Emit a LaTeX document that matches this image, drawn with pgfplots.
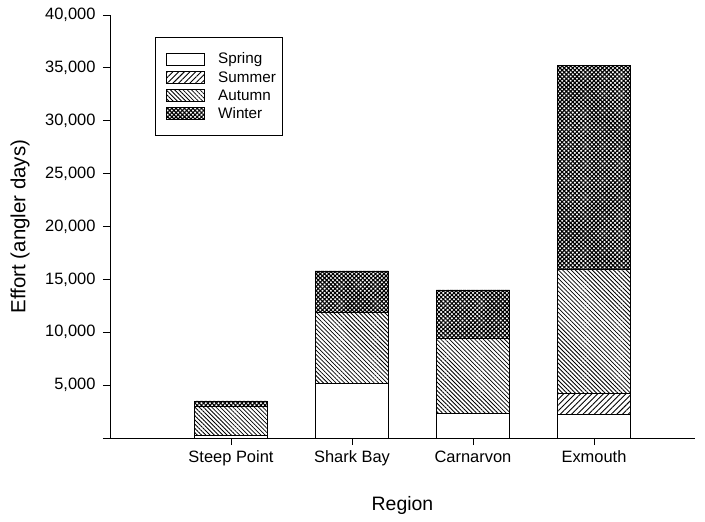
\documentclass[border=0pt]{standalone}
\usepackage{fontspec}
\setmainfont{Liberation Sans}
\usepackage{pgfplots}
\pgfplotsset{compat=1.18}
\usetikzlibrary{patterns.meta}
\tikzset{
  pspring/.style={fill=white},
  psummer/.style={pattern={Lines[angle=45,distance=4bp,line width=0.9bp]}},
  pautumn/.style={pattern={Lines[angle=-45,distance=3bp,line width=0.8bp]}},
  pwinter/.style={pattern={Hatch[angle=45,distance=3bp,line width=1.1bp]}},
}
\begin{document}
\begin{tikzpicture}
\useasboundingbox (-110bp,-84bp) rectangle (595bp,438bp);
\begin{axis}[
  at={(0,0)}, anchor=south west,
  scale only axis,
  width=585bp, height=423bp,
  ybar stacked,
  bar width=0.61,
  xmin=-1, xmax=3.835,
  ymin=0, ymax=40000,
  scaled y ticks=false,
  axis lines=left,
  axis line style={-, line width=0.8bp},
  tick style={black, line width=0.8bp},
  tick align=outside,
  major tick length=7bp,
  xtick={0,1,2,3},
  xticklabels={Steep Point,Shark Bay,Carnarvon,Exmouth},
  ytick={0,5000,10000,15000,20000,25000,30000,35000,40000},
  yticklabels={{},{5,000},{10,000},{15,000},{20,000},{25,000},{30,000},{35,000},{40,000}},
  ticklabel style={font=\fontsize{16.5}{19}\selectfont},
  xticklabel style={yshift=-2bp},
  yticklabel style={xshift=-4bp},
  xlabel={Region},
  ylabel={Effort (angler days)},
  every axis x label/.style={at={(axis description cs:0.5,0)}, anchor=center, yshift=-67bp, font=\fontsize{19.5}{22}\selectfont},
  every axis y label/.style={at={(axis description cs:0,0.5)}, anchor=center, xshift=-90bp, rotate=90, font=\fontsize{20.5}{22}\selectfont},
  legend image code/.code={\path (7bp,0bp) (62bp,0bp); \draw[#1, line width=0.7bp] (16bp,-6bp) rectangle (54bp,6bp);},
  legend style={at={(axis description cs:0.077,0.948)}, anchor=north west,
    draw=black, line width=0.8bp, font=\fontsize{15.3}{15.3}\selectfont,
    inner xsep=2bp, inner ysep=14bp, row sep=3bp,
    nodes={inner xsep=5bp, inner ysep=1.5bp}},
  legend cell align=left,
]
\addplot[draw=black, line width=0.8bp, pspring] coordinates {(0,200) (1,5200) (2,2300) (3,2200)};
\addplot[draw=black, line width=0.8bp, psummer] coordinates {(0,0) (1,0) (2,0) (3,2000)};
\addplot[draw=black, line width=0.8bp, pautumn] coordinates {(0,2800) (1,6700) (2,7100) (3,11700)};
\addplot[draw=black, line width=0.8bp, pwinter] coordinates {(0,500) (1,3900) (2,4600) (3,19300)};
\legend{Spring,Summer,Autumn,Winter}
\end{axis}
\end{tikzpicture}
\end{document}
